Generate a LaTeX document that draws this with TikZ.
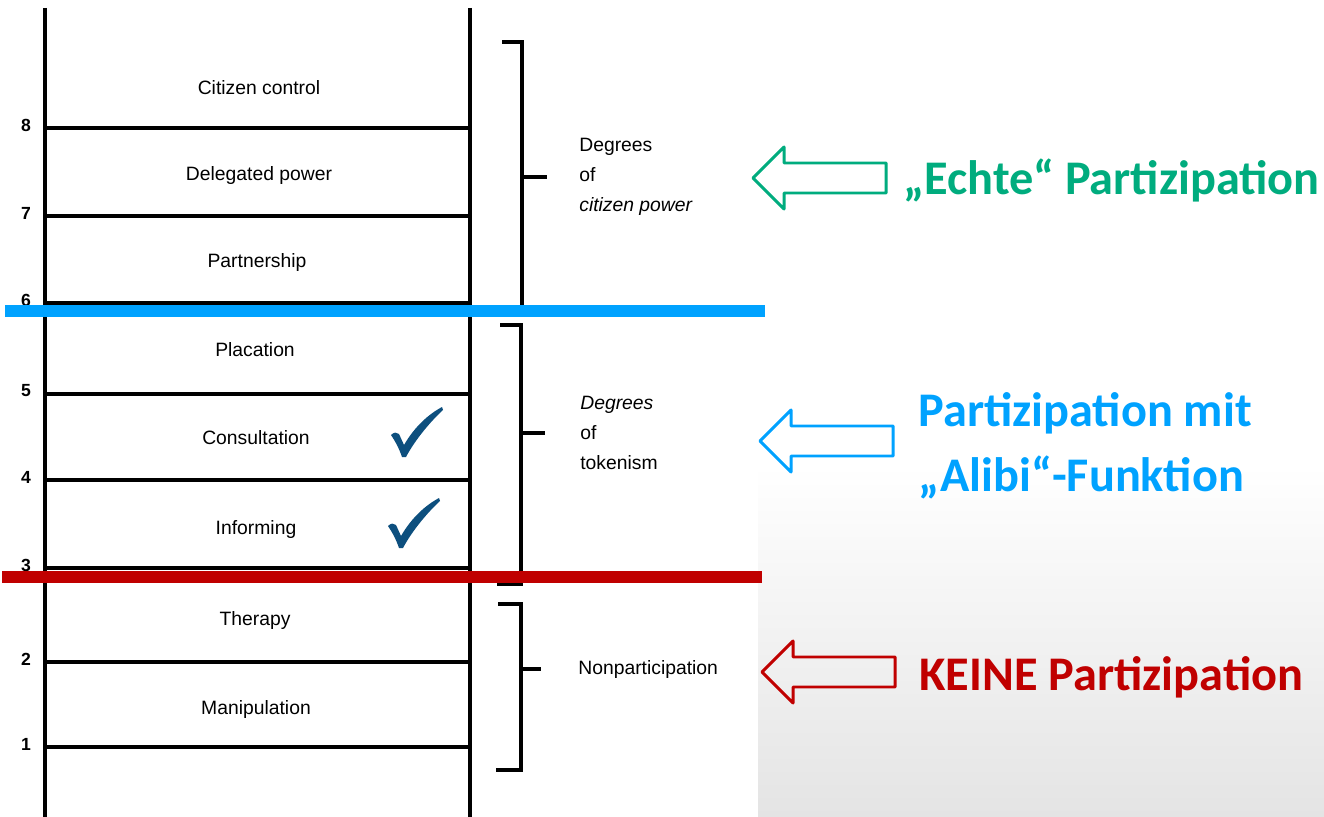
\documentclass[tikz,border=0pt]{standalone}
\usepackage{fontspec}
\usetikzlibrary{positioning}
\newfontfamily\ladderfont{Liberation Sans}
\newfontfamily\notefont{Carlito}
\definecolor{echtegreen}{HTML}{00AC7E}
\definecolor{alibiblue}{HTML}{00A2FF}
\definecolor{keinered}{HTML}{C00000}
\definecolor{tickblue}{HTML}{0D4F7E}
\definecolor{shadegrey}{HTML}{E4E4E4}

\begin{document}
\begin{tikzpicture}[x=0.02cm,y=-0.02cm,
  rail/.style={line width=2.3pt},
  rung/.style={line width=2pt},
  brace/.style={line width=1.8pt},
  num/.style={font=\ladderfont\bfseries\fontsize{10}{12}\selectfont,inner sep=0pt},
  steplabel/.style={font=\ladderfont\fontsize{11}{13}\selectfont,inner sep=0pt},
  groupnote/.style={font=\ladderfont\fontsize{11}{17}\selectfont,align=left,inner sep=0pt},
  divider/.style={line width=6.8pt},
  callout/.style={font=\notefont\bfseries\fontsize{27.5}{37}\selectfont,align=left,anchor=west,inner sep=0pt},
  hollow/.style={line width=1.7pt,line join=round},
  chk/.pic={\fill[tickblue] (-12,-21) .. controls (-9,-24) and (-6,-24) .. (-4,-22)
      -- (1,-11) .. controls (12,-30) and (26,-42) .. (39,-49) -- (40,-46)
      .. controls (27,-34) and (12,-16) .. (3,1) -- (-1,1)
      .. controls (-4,-8) and (-8,-15) .. (-12,-21) -- cycle;},
  bigarrow/.pic={\draw[hollow] (0,0) -- (31,-31) -- (31,-15) -- (133,-15) -- (133,15)
      -- (31,15) -- (31,31) -- cycle;}]
\useasboundingbox (0,0) rectangle (1324,817);
\fill[white] (0,0) rectangle (1324,817);
\shade[top color=white,bottom color=shadegrey] (758,465) rectangle (1324,817);

% ladder
\draw[rail] (45,8) -- (45,817);
\draw[rail] (470,8) -- (470,817);
\foreach \n/\y in {8/128,7/216,6/303,5/394,4/480,3/568,2/662,1/747}{
  \draw[rung] (45,\y) -- (470,\y);
  \node[num] (n\n) at (26,{\y-3}) {\n};
}
\node[steplabel] (s8) at (259,88) {Citizen control};
\node[steplabel] (s7) at (259,176) {Delegated power};
\node[steplabel] (s6) at (257,263) {Partnership};
\node[steplabel] (s5) at (255,350) {Placation};
\node[steplabel] (s4) at (256,438) {Consultation};
\node[steplabel] (s3) at (256,530) {Informing};
\node[steplabel] (s2) at (255,620) {Therapy};
\node[steplabel] (s1) at (256,709) {Manipulation};
\pic at (403,456) {chk};
\pic at (400,547) {chk};

% brackets
\draw[brace] (502,42) -- (522,42) -- (522,305);
\draw[brace] (500,325) -- (521,325) -- (521,584) -- (497,584);
\draw[brace] (498,604) -- (521,604) -- (521,770) -- (496,770);
\coordinate (t1) at (547,177);
\coordinate (t2) at (545,433);
\coordinate (t3) at (541,669);
\draw[brace] (522,177) -- (t1);
\draw[brace] (521,433) -- (t2);
\draw[brace] (521,669) -- (t3);
\node[groupnote,right=0.64cm of t1] (g1) {Degrees\\of\\\textit{citizen power}};
\node[groupnote,right=0.70cm of t2] (g2) {\textit{Degrees}\\of\\tokenism};
\node[groupnote,right=0.74cm of t3] (g3) {Nonparticipation};

% dividers
\draw[divider,alibiblue] (5,311) -- (765,311);
\draw[divider,keinered] (2,577) -- (762,577);

% callouts
\pic[echtegreen] at (753,178) {bigarrow};
\node[callout,text=echtegreen] (c1) at (903,180) {„Echte“ Partizipation};
\pic[alibiblue] at (760,441) {bigarrow};
\node[callout,text=alibiblue] (c2) at (918,446) {Partizipation mit\\„Alibi“-Funktion};
\pic[keinered] at (762,672) {bigarrow};
\node[callout,text=keinered] (c3) at (919,677) {KEINE Partizipation};
\end{tikzpicture}
\end{document}
